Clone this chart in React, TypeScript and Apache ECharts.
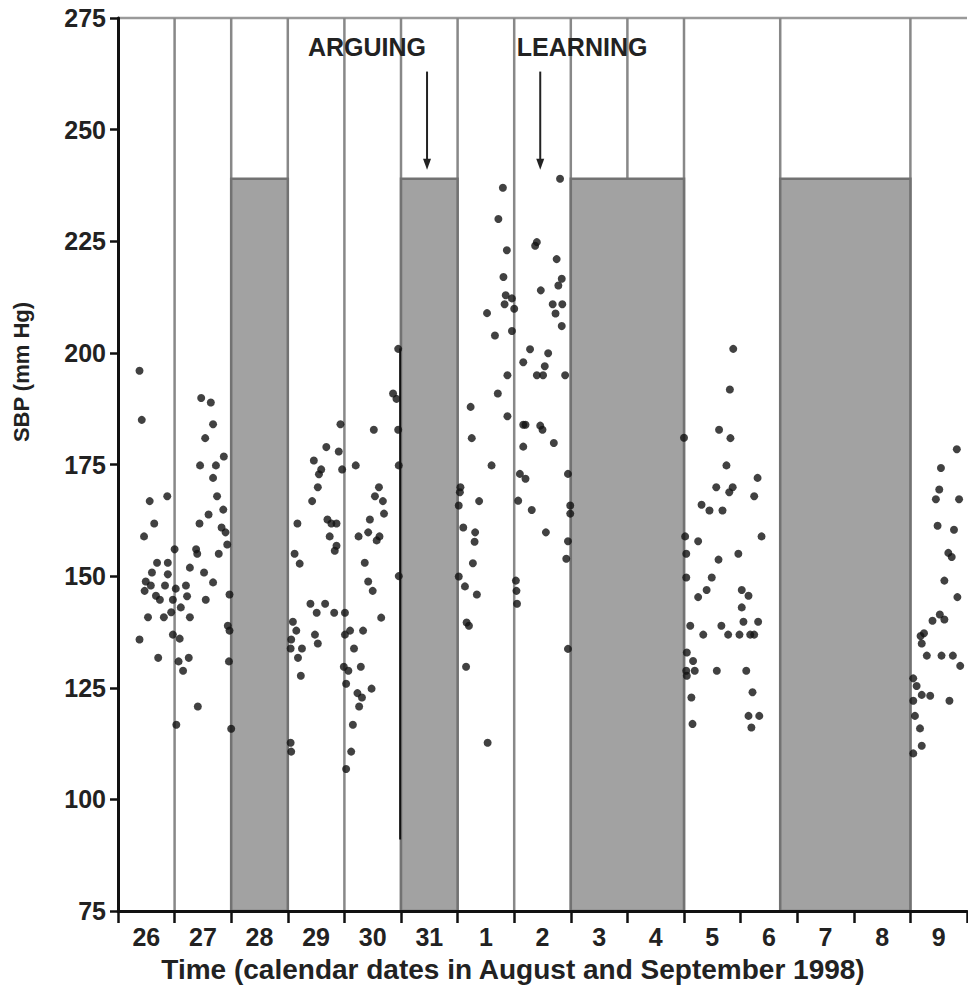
import React, { useEffect, useRef } from "react";
import * as echarts from "echarts";

// Category labels (calendar dates, August–September 1998)
const dates = ["26", "27", "28", "29", "30", "31", "1", "2", "3", "4", "5", "6", "7", "8", "9"];

// Y axis range
const yMin = 75;
const yMax = 275;
const yStep = 25;

// Day boundaries drawn as vertical separators (in day units from 26 Aug 00:00)
const dayBoundaries = [1, 2, 3, 4, 5, 6, 7, 8, 9, 10, 11.7, 14];

// Shaded blocks: [start, end]
const shadedBlocks = [
  [2, 3],
  [5, 6],
  [8, 10],
  [11.7, 14],
];
const shadedTop = 239;

// Dense trace of readings along the edge of the 31 Aug block: [day, from, to]
const denseTraces = [[4.985, 201, 91]];

// Annotations: label text position and arrow position
const annotationLabels = [
  { text: "ARGUING", x: 4.4, y: 268.5 },
  { text: "LEARNING", x: 8.2, y: 268.5 },
];
const annotationArrows = [
  { x: 5.46, from: 263, to: 241 },
  { x: 7.46, from: 263, to: 241 },
];

// SBP readings [day position, mmHg]
const aug26to27 = [
  [0.38, 196], [0.42, 185], [0.56, 166.8], [0.87, 167.9], [0.64, 161.8], [0.46, 158.9],
  [1.0, 156], [0.69, 153], [0.88, 153], [0.6, 150.8], [0.88, 150.4], [0.49, 148.8],
  [0.58, 147.9], [0.47, 146.7], [0.83, 147.9], [1.02, 147.2], [1.2, 147.9], [1.27, 151.9],
  [1.52, 150.8], [1.68, 148.6], [0.67, 145.6], [0.74, 144.7], [0.97, 144.7], [1.22, 145.5],
  [1.55, 144.7], [0.53, 140.8], [0.81, 140.8], [0.94, 141.9], [1.11, 143], [1.27, 140.8],
  [0.38, 135.8], [0.97, 136.9], [1.09, 136], [0.71, 131.7], [1.07, 130.9], [1.25, 131.7],
  [1.15, 128.8], [1.41, 120.8], [1.03, 116.7], [1.97, 145.9], [1.94, 138.9], [1.97, 137.8],
  [1.96, 130.9], [2.0, 115.8], [1.47, 189.9], [1.64, 188.9], [1.68, 184], [1.54, 180.9],
  [1.87, 176.8], [1.45, 174.8], [1.73, 174.8], [1.68, 172], [1.75, 167.9], [1.86, 164.9],
  [1.6, 163.8], [1.44, 161.8], [1.83, 160.9], [1.9, 159.8], [1.93, 157.1], [1.38, 156],
  [1.4, 155], [1.78, 155],
];

const aug29to30 = [
  [3.21, 152.8], [3.4, 143.8], [3.66, 143.8], [3.51, 141.8], [3.82, 141.8], [4.01, 141.8],
  [3.09, 139.8], [3.15, 137.8], [3.48, 136.9], [3.53, 134.9], [3.06, 135.8], [3.05, 133.8],
  [3.25, 133.8], [3.18, 131.7], [3.23, 127.7], [3.05, 112.7], [3.06, 110.7], [4.01, 136.9],
  [3.99, 129.7], [4.03, 125.9], [4.03, 106.8], [3.93, 184], [3.68, 178.9], [3.9, 177.9],
  [3.46, 175.9], [3.96, 173.9], [3.59, 173.9], [3.55, 172.8], [3.53, 169.9], [3.43, 166.8],
  [3.17, 161.8], [3.7, 162.7], [3.77, 161.8], [3.86, 161.8], [3.74, 158.9], [3.86, 156.8],
  [3.83, 155.7], [3.12, 155], [4.52, 182.8], [4.2, 174.8], [4.61, 169.9], [4.54, 167.9],
  [4.68, 166.8], [4.7, 164], [4.45, 162.7], [4.42, 159.8], [4.25, 158.9], [4.62, 158.9],
  [4.57, 158], [4.36, 153], [4.95, 200.9], [4.86, 190.9], [4.92, 189.7], [4.95, 182.8],
  [4.96, 174.8], [4.96, 150], [4.42, 148.8], [4.5, 146.7], [4.65, 140.7], [4.33, 137.8],
  [4.1, 137.8], [4.17, 133.8], [4.29, 129.7], [4.07, 128.8], [4.48, 124.8], [4.23, 123.8],
  [4.31, 122.8], [4.26, 120.8], [4.15, 116.7], [4.12, 110.7],
];

const sep1to2 = [
  [6.23, 187.9], [6.71, 190.9], [6.88, 195], [6.88, 185.8], [6.25, 180.9], [6.6, 174.8],
  [6.05, 169.9], [6.04, 168.8], [6.38, 166.8], [6.1, 160.9], [6.31, 159.8], [6.3, 157.7],
  [6.27, 152.9], [6.8, 237], [6.72, 230], [6.87, 223], [6.81, 217], [6.85, 212.9],
  [6.96, 212.2], [6.83, 210.9], [7.0, 209.9], [6.52, 208.9], [6.96, 204.9], [6.66, 203.9],
  [7.81, 239], [7.4, 224.8], [7.37, 224], [7.75, 221], [7.84, 216.6], [7.78, 215.1],
  [7.47, 214], [7.68, 210.9], [7.85, 210.9], [7.73, 208.8], [7.84, 206], [7.28, 200.8],
  [7.6, 199.9], [7.16, 197.9], [7.54, 197], [7.4, 195], [7.51, 195], [7.9, 195],
  [7.16, 183.9], [7.2, 183.9], [7.46, 183.7], [7.5, 182.8], [7.16, 179], [7.7, 179.8],
  [7.1, 172.9], [7.2, 171.8], [7.07, 166.9], [7.31, 164.8], [7.56, 159.8], [7.95, 172.9],
  [7.99, 165.8], [7.99, 164], [7.95, 157.8], [7.92, 153.9], [7.95, 133.7], [7.03, 149],
  [7.04, 146.7], [7.05, 143.8], [6.02, 165.8], [6.02, 149.9], [6.13, 147.7], [6.34, 145.9],
  [6.16, 139.6], [6.2, 138.9], [6.15, 129.7], [6.53, 112.7],
];

const sep5to6 = [
  [10.87, 200.9], [10.81, 191.8], [10.62, 182.8], [10.82, 180.9], [10.0, 181], [10.75, 174.8],
  [11.3, 172], [10.57, 169.9], [10.86, 169.9], [10.8, 168.8], [11.24, 167.9], [10.31, 166],
  [10.45, 164.7], [10.68, 164.7], [10.02, 158.9], [11.37, 158.9], [10.25, 157.8], [10.04, 155],
  [10.96, 155], [10.61, 153.7], [10.04, 149.7], [10.49, 149.7], [10.4, 146.9], [10.25, 145.3],
  [11.02, 146.9], [11.14, 145.6], [11.02, 143], [11.05, 139.8], [11.31, 139.8], [10.11, 138.9],
  [10.66, 138.9], [10.34, 136.9], [10.78, 136.9], [10.98, 136.9], [11.17, 136.9], [11.24, 136.9],
  [10.05, 132.9], [10.16, 131], [10.04, 128.8], [10.19, 128.8], [10.58, 128.8], [11.1, 128.8],
  [10.05, 127.7], [11.21, 124], [10.13, 122.8], [11.14, 118.7], [11.33, 118.7], [11.19, 116.1],
  [10.15, 116.9],
];

const sep9 = [
  [14.82, 178.4], [14.54, 174.2], [14.51, 169.4], [14.45, 167.2], [14.86, 167.2], [14.48, 161.3],
  [14.77, 160.4], [14.67, 155.2], [14.73, 154.3], [14.6, 149], [14.83, 145.3], [14.52, 141.4],
  [14.6, 140.3], [14.39, 140], [14.24, 137.2], [14.18, 136.6], [14.2, 134.9], [14.29, 132.2],
  [14.55, 132.2], [14.75, 132.2], [14.88, 129.9], [14.05, 127.1], [14.11, 125.4], [14.2, 123.4],
  [14.35, 123.2], [14.69, 122.1], [14.05, 122.1], [14.08, 118.7], [14.17, 115.9], [14.2, 112],
  [14.05, 110.3],
];

const FONT = '"Liberation Sans", Arial, Helvetica, sans-serif';

export default function App() {
  const ref = useRef<HTMLDivElement>(null);

  useEffect(() => {
    if (!ref.current) return;
    const chart = echarts.init(ref.current, null, { renderer: "svg" });
    const allPoints = [...aug26to27, ...aug29to30, ...sep1to2, ...sep5to6, ...sep9];

    const vline = (stroke: string, width: number) => (params: any, api: any) => {
      const a = api.coord([api.value(0), api.value(1)]);
      const b = api.coord([api.value(0), api.value(2)]);
      return {
        type: "line",
        shape: { x1: a[0], y1: a[1], x2: b[0], y2: b[1] },
        style: { stroke, lineWidth: width },
      };
    };

    const option: any = {
      animation: false,
      backgroundColor: "#ffffff",
      grid: { left: 118, top: 18, width: 849, bottom: 79, containLabel: false },
      xAxis: [
        {
          type: "value",
          min: 0,
          max: dates.length,
          interval: 1,
          z: 10,
          axisLine: { show: true, onZero: false, lineStyle: { color: "#111", width: 3 } },
          axisTick: { show: true, length: 12, lineStyle: { color: "#111", width: 2.5 } },
          axisLabel: { show: false },
          splitLine: { show: false },
        },
        {
          type: "category",
          data: dates,
          boundaryGap: true,
          position: "bottom",
          z: 10,
          axisLine: { show: false },
          axisTick: { show: false },
          splitLine: { show: false },
          axisLabel: {
            show: true,
            margin: 13,
            color: "#222",
            fontFamily: FONT,
            fontWeight: "bold",
            fontSize: 25,
          },
        },
      ],
      yAxis: {
        type: "value",
        min: yMin,
        max: yMax,
        interval: yStep,
        z: 10,
        axisLine: { show: true, onZero: false, lineStyle: { color: "#111", width: 3 } },
        axisTick: { show: true, length: 8, lineStyle: { color: "#111", width: 2.5 } },
        splitLine: { show: false },
        axisLabel: {
          margin: 12,
          color: "#222",
          fontFamily: FONT,
          fontWeight: "bold",
          fontSize: 25,
        },
      },
      graphic: [
        {
          type: "text",
          x: 21,
          y: 372,
          rotation: Math.PI / 2,
          style: {
            text: "SBP (mm Hg)",
            font: `bold 22px ${FONT}`,
            fill: "#222",
            align: "center",
            verticalAlign: "middle",
          },
        },
        {
          type: "text",
          x: 513,
          y: 969,
          style: {
            text: "Time (calendar dates in August and September 1998)",
            font: `bold 28px ${FONT}`,
            fill: "#222",
            align: "center",
            verticalAlign: "middle",
          },
        },
      ],
      series: [
        {
          type: "custom",
          name: "frame",
          xAxisIndex: 0,
          yAxisIndex: 0,
          z: 1,
          silent: true,
          data: [[0, yMax, dates.length]],
          renderItem: (params: any, api: any) => {
            const a = api.coord([api.value(0), api.value(1)]);
            const b = api.coord([api.value(2), api.value(1)]);
            return {
              type: "line",
              shape: { x1: a[0], y1: a[1], x2: b[0], y2: b[1] },
              style: { stroke: "#9a9a9a", lineWidth: 2.5 },
            };
          },
        },
        {
          type: "custom",
          name: "separators",
          xAxisIndex: 0,
          yAxisIndex: 0,
          z: 1,
          silent: true,
          data: dayBoundaries.map((d) => [d, yMax, yMin]),
          renderItem: vline("#888888", 2.5),
        },
        {
          type: "custom",
          name: "shaded",
          xAxisIndex: 0,
          yAxisIndex: 0,
          z: 2,
          silent: true,
          data: shadedBlocks.map(([s, e]) => [s, e, shadedTop, yMin]),
          renderItem: (params: any, api: any) => {
            const a = api.coord([api.value(0), api.value(2)]);
            const b = api.coord([api.value(1), api.value(3)]);
            return {
              type: "rect",
              shape: { x: a[0], y: a[1], width: b[0] - a[0], height: b[1] - a[1] },
              style: { fill: "#a2a2a2", stroke: "#727272", lineWidth: 2.5 },
            };
          },
        },
        {
          type: "custom",
          name: "dense",
          xAxisIndex: 0,
          yAxisIndex: 0,
          z: 3,
          silent: true,
          data: denseTraces,
          renderItem: vline("#111111", 2),
        },
        {
          type: "scatter",
          name: "SBP",
          xAxisIndex: 0,
          yAxisIndex: 0,
          z: 3,
          symbol: "circle",
          symbolSize: 8,
          itemStyle: { color: "#111" },
          data: allPoints,
        },
        {
          type: "custom",
          name: "arrows",
          xAxisIndex: 0,
          yAxisIndex: 0,
          z: 4,
          silent: true,
          data: annotationArrows.map((a) => [a.x, a.from, a.to]),
          renderItem: (params: any, api: any) => {
            const a = api.coord([api.value(0), api.value(1)]);
            const b = api.coord([api.value(0), api.value(2)]);
            return {
              type: "group",
              children: [
                {
                  type: "line",
                  shape: { x1: a[0], y1: a[1], x2: b[0], y2: b[1] - 8 },
                  style: { stroke: "#222", lineWidth: 2 },
                },
                {
                  type: "polygon",
                  shape: {
                    points: [
                      [b[0] - 4, b[1] - 11],
                      [b[0] + 4, b[1] - 11],
                      [b[0], b[1]],
                    ],
                  },
                  style: { fill: "#222" },
                },
              ],
            };
          },
        },
        {
          type: "custom",
          name: "labels",
          xAxisIndex: 0,
          yAxisIndex: 0,
          z: 4,
          silent: true,
          data: annotationLabels.map((l, i) => [l.x, l.y, i]),
          renderItem: (params: any, api: any) => {
            const p = api.coord([api.value(0), api.value(1)]);
            const lab = annotationLabels[api.value(2)];
            return {
              type: "text",
              x: p[0],
              y: p[1],
              style: {
                text: lab.text,
                font: `bold 25px ${FONT}`,
                fill: "#222",
                align: "center",
                verticalAlign: "middle",
              },
            };
          },
        },
      ],
    };

    chart.setOption(option);
    return () => chart.dispose();
  }, []);

  return (
    <div
      ref={ref}
      style={{ position: "absolute", left: 0, top: 0, width: 968, height: 990, background: "#fff" }}
    />
  );
}
